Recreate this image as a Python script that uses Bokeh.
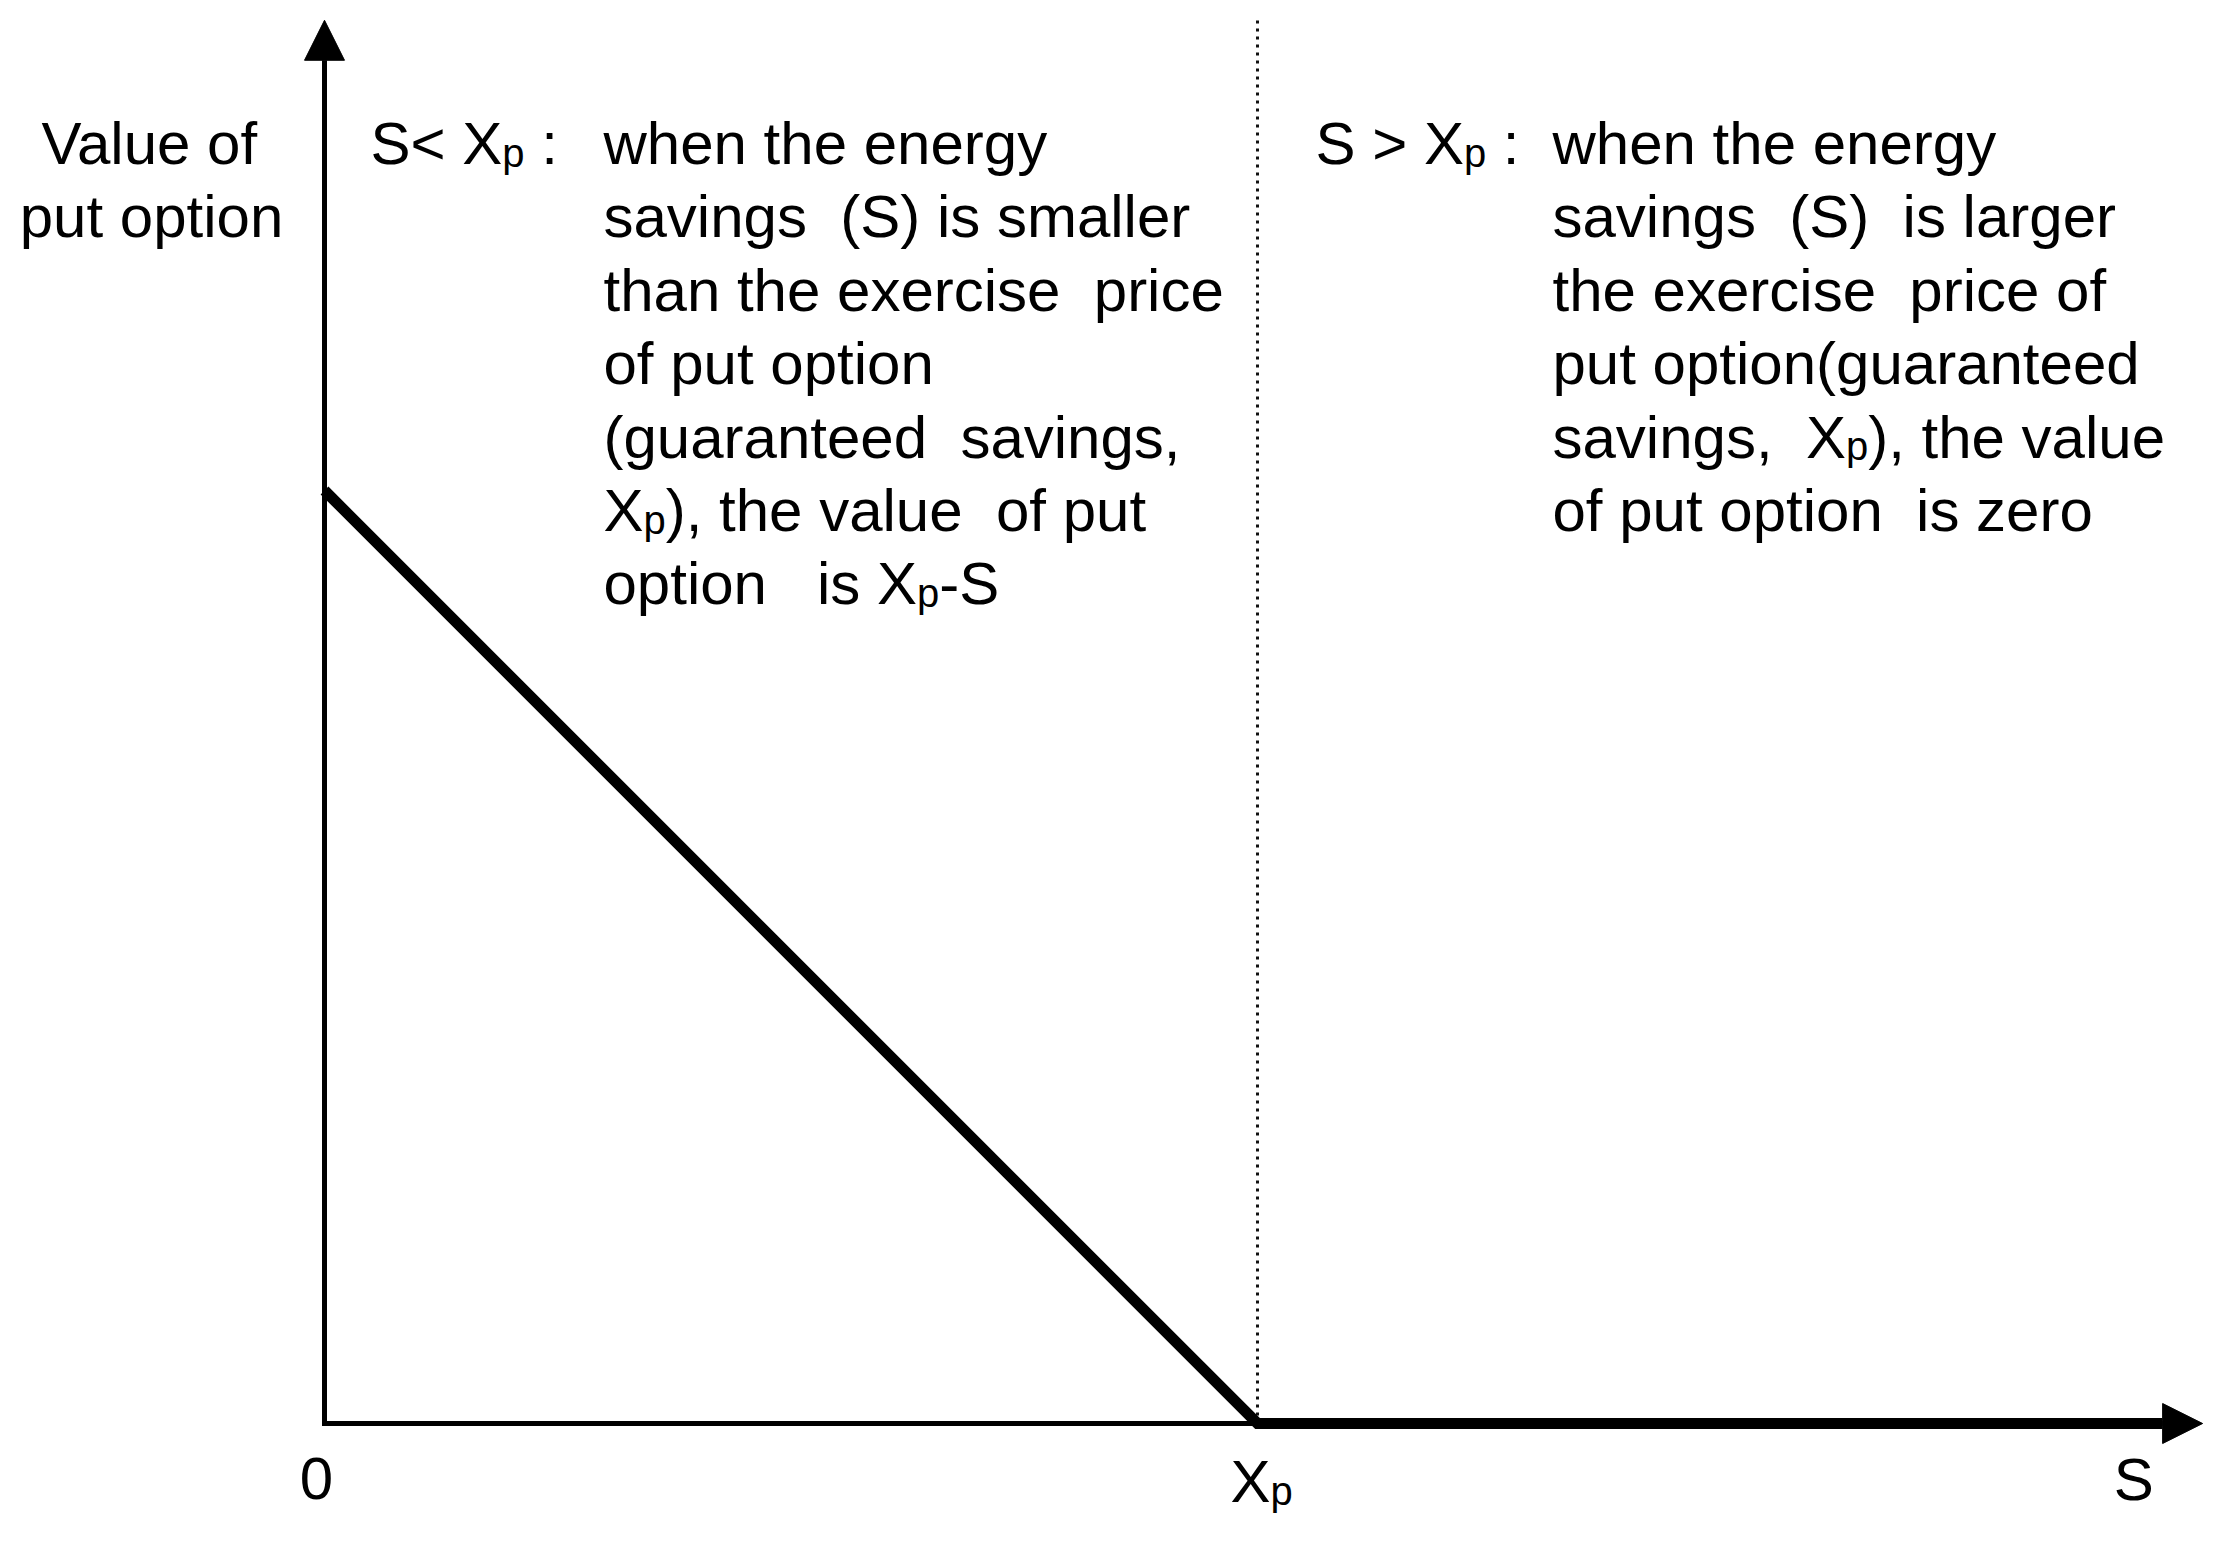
import re
from bokeh.plotting import figure
from bokeh.models import Range1d, Arrow, NormalHead
from bokeh.core.properties import value
from bokeh.embed import file_html
from bokeh.resources import INLINE

# ---------------- data (S in units of Xp) ----------------
s_values = [0.0, 1.0, 1.97]        # energy savings S
put_values = [1.0, 0.0, 0.0]       # value of put option = max(Xp - S, 0)
exercise_price = 1.0               # Xp (guaranteed savings)
axis_s_max = 2.013                 # end of S axis (arrow tip)
axis_v_max = 1.504                 # end of value axis (arrow tip)

y_title_lines = ["Value of", "put option"]
x_tick_zero = "0"
x_tick_xp = [("X", False), ("p", True)]
x_axis_name = "S"

left_head = [("S< ", False), ("X", False), ("p", True), (" :", False)]
left_lines = [
    [("when the energy", False)],
    [("savings  (S) is smaller", False)],
    [("than the exercise  price", False)],
    [("of put option", False)],
    [("(guaranteed  savings,", False)],
    [("X", False), ("p", True), ("), the value  of put", False)],
    [("option   is ", False), ("X", False), ("p", True), ("-S", False)],
]
right_head = [("S > ", False), ("X", False), ("p", True), (" :", False)]
right_lines = [
    [("when the energy", False)],
    [("savings  (S)  is larger", False)],
    [("the exercise  price of", False)],
    [("put option(guaranteed", False)],
    [("savings,  ", False), ("X", False), ("p", True), ("), the value", False)],
    [("of put option  is zero", False)],
]

# ---------------- layout ----------------
W, H = 2206, 1528
PAGE_MARGIN = 0                      # observed canvas offset in the photo
ORIGIN_X, ORIGIN_Y = 324, 1423       # page px of data origin
K = 933.0                            # px per data unit
FONT = "Liberation Sans"
FS = 60
FS_SUB = 40
SUB_DROP = 9
TEXT_DY = -19                        # measured render correction for baselines

ARIAL = {' ': 278, '(': 333, ')': 333, ',': 278, '-': 333, ':': 278, '<': 584, '>': 584,
         'S': 667, 'X': 667, 'V': 667, 'a': 556, 'c': 500, 'd': 556, 'e': 556, 'f': 278,
         'g': 556, 'h': 556, 'i': 222, 'l': 222, 'm': 833, 'n': 556, 'o': 556, 'p': 556,
         'r': 333, 's': 500, 't': 278, 'u': 556, 'v': 500, 'w': 722, 'x': 500, 'y': 500,
         'z': 500, '0': 556}


def tw(s, size):
    return sum(ARIAL.get(c, 556) for c in s) * size / 1000.0


def dx(px):
    return (px - ORIGIN_X) / K


def dy(py):
    return (ORIGIN_Y - py) / K


x0 = dx(PAGE_MARGIN)
x1 = dx(PAGE_MARGIN + W)
y_top = dy(PAGE_MARGIN)
y_bot = dy(PAGE_MARGIN + H)

p = figure(width=W, height=H, x_range=Range1d(x0, x1), y_range=Range1d(y_bot, y_top),
           output_backend="svg", toolbar_location=None, min_border=0,
           x_axis_location=None, y_axis_location=None)
p.grid.visible = False
p.outline_line_color = None
p.background_fill_color = "white"
p.border_fill_color = "white"

texts = {"x": [], "y": [], "t": [], "s": []}


def put_text(px, py, t, size):
    texts["x"].append(dx(px))
    texts["y"].append(dy(py + TEXT_DY))
    texts["t"].append(t)
    texts["s"].append(size)


def layout_line(segs, start_x, baseline):
    x = start_x
    for seg, sub in segs:
        size = FS_SUB if sub else FS
        yb = baseline + (SUB_DROP if sub else 0)
        for m in re.finditer(r"\S+(?: \S+)*", seg):
            put_text(x + tw(seg[:m.start()], size), yb, m.group(0), size)
        x += tw(seg, size)


BASE0 = 162
LS = 73.4
for i, t in enumerate(y_title_lines):
    put_text(151 - tw(t, FS) / 2, BASE0 + i * LS, t, FS)

layout_line(left_head, 370, BASE0)
for i, segs in enumerate(left_lines):
    layout_line(segs, 603, BASE0 + i * LS)
layout_line(right_head, 1315, BASE0)
for i, segs in enumerate(right_lines):
    layout_line(segs, 1552, BASE0 + i * LS)

# tick labels, anchored to data positions
zx = ORIGIN_X + 0 * K
put_text(zx - 8 - tw(x_tick_zero, FS) / 2, ORIGIN_Y + 74, x_tick_zero, FS)
layout_line(x_tick_xp, ORIGIN_X + exercise_price * K - 27, ORIGIN_Y + 77)
put_text(ORIGIN_X + axis_s_max * K - 89, ORIGIN_Y + 75, x_axis_name, FS)

for size in (FS, FS_SUB):
    idx = [i for i, s in enumerate(texts["s"]) if s == size]
    p.text(x=[texts["x"][i] for i in idx], y=[texts["y"][i] for i in idx],
           text=[texts["t"][i] for i in idx],
           text_font=value(FONT), text_font_size=value(f"{size}px"),
           text_color="black", text_baseline="alphabetic", text_align="left")

# dotted divider at Xp
p.segment(x0=[exercise_price], y0=[0], x1=[exercise_price], y1=[dy(17)],
          line_color="#111111", line_width=3, line_dash="3 5")

# axes with arrow heads
p.add_layout(Arrow(end=NormalHead(size=40, fill_color="black", line_color="black", line_width=1),
                   x_start=0, y_start=-2.5 / K, x_end=0, y_end=axis_v_max,
                   line_color="black", line_width=5))
p.add_layout(Arrow(end=NormalHead(size=40, fill_color="black", line_color="black", line_width=1),
                   x_start=-2.5 / K, y_start=0, x_end=axis_s_max, y_end=0,
                   line_color="black", line_width=5))

# payoff of the put option
p.line(s_values, put_values, line_color="black", line_width=11, line_join="miter")

open("out.html", "w").write(file_html(p, INLINE))
